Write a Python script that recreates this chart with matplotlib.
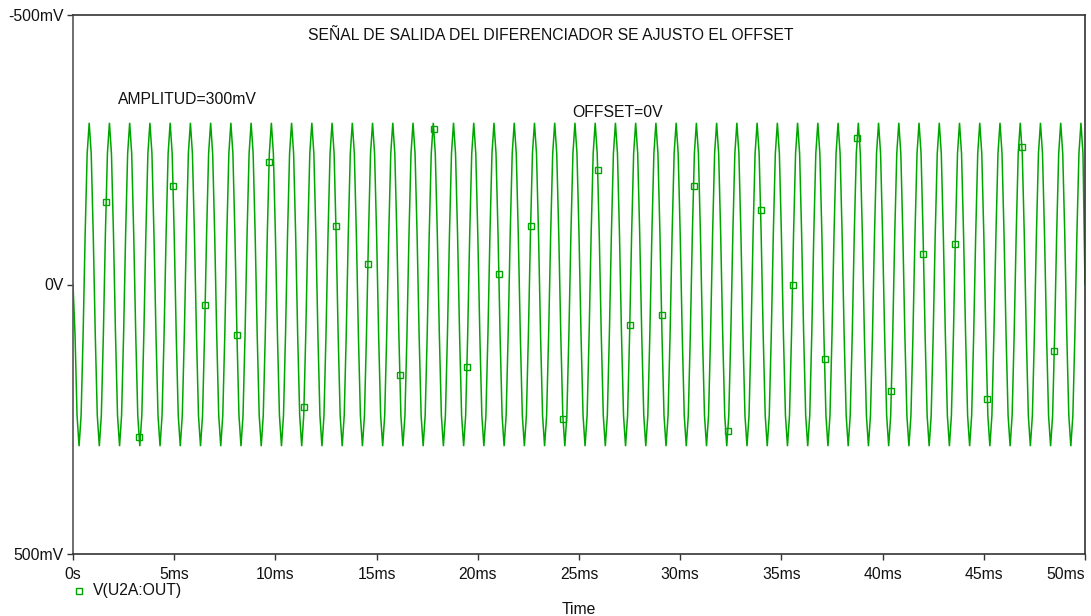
import numpy as np
import matplotlib
matplotlib.use("Agg")
import matplotlib.pyplot as plt

plt.rcParams['font.family'] = ['Liberation Sans', 'DejaVu Sans']

# One period of the sampled output (mV), 0.1 ms per sample, 1 kHz
period_mv = [93, 243, 300, 243, 93, -93, -243, -300, -243, -93]
n_periods = 50
step_ms = 0.1
start_mv = 0
end_mv = 0

# Times (ms) where the trace markers sit
marker_ms = [1.64, 3.27, 4.94, 6.53, 8.10, 9.69, 11.41, 12.99, 14.57, 16.15,
             17.82, 19.46, 21.04, 22.61, 24.21, 25.92, 27.51, 29.08, 30.66, 32.35,
             33.97, 35.55, 37.13, 38.75, 40.43, 42.02, 43.59, 45.18, 46.88, 48.48]

x_ticks_ms = [0, 5, 10, 15, 20, 25, 30, 35, 40, 45, 50]
x_tick_labels = ['0s', '5ms', '10ms', '15ms', '20ms', '25ms', '30ms', '35ms',
                 '40ms', '45ms', '50ms']
y_ticks_v = [-0.5, 0.0, 0.5]
y_tick_labels = ['-500mV', '0V', '500mV']

trace_name = 'V(U2A:OUT)'
title = 'SEÑAL DE SALIDA DEL DIFERENCIADOR SE AJUSTO EL OFFSET'
note_amp = 'AMPLITUD=300mV'
note_off = 'OFFSET=0V'

# Build the sampled trace
samples = np.tile(np.array(period_mv, dtype=float), n_periods)
v_mv = np.concatenate([[start_mv], samples[:-1], [end_mv]])
t_ms = np.arange(len(v_mv)) * step_ms
t_s = t_ms / 1000.0
v_v = v_mv / 1000.0

mk_t = np.array(marker_ms) / 1000.0
mk_v = np.interp(mk_t, t_s, v_v)

W, H = 1091, 616
FS = 11.3
fig = plt.figure(figsize=(W / 100, H / 100), dpi=100)
L, R, T, B = 73, 1085, 15, 554
ax = fig.add_axes([L / W, 1 - B / H, (R - L) / W, (B - T) / H])

green = '#00A600'
ax.plot(t_s, v_v, color=green, lw=1.1, solid_joinstyle='miter')
ax.plot(mk_t, mk_v, ls='none', marker='s', ms=4.6, mfc='none',
        mec=green, mew=1.0)

ax.set_xlim(0, 0.05)
ax.set_ylim(0.5, -0.5)

ax.set_xticks(np.array(x_ticks_ms) / 1000.0)
ax.set_xticklabels(x_tick_labels)
ax.set_yticks(y_ticks_v)
ax.set_yticklabels(y_tick_labels)

ax.tick_params(axis='both', direction='out', length=4.5, width=1,
               colors='#333333', labelsize=FS, labelcolor='#111111', pad=2)
ax.tick_params(axis='x', pad=5)
for sp in ax.spines.values():
    sp.set_color('#333333')
    sp.set_linewidth(1.2)
ax.spines['left'].set_color('#555555')

# keep the last time label inside the figure
last = ax.get_xticklabels()[-1]
last.set_horizontalalignment('right')

ax.set_xlabel('Time', fontsize=FS, color='#111111', labelpad=14)

fig.text(308 / W, 1 - 35 / H, title, fontsize=FS, color='#111111',
         ha='left', va='center')
fig.text(118 / W, 1 - 100 / H, note_amp, fontsize=FS, color='#111111',
         ha='left', va='center')
fig.text(572 / W, 1 - 112 / H, note_off, fontsize=FS, color='#111111',
         ha='left', va='center')

# trace legend below the axis
fig.lines.append(matplotlib.lines.Line2D([79 / W], [1 - 591 / H],
                                         transform=fig.transFigure,
                                         ls='none', marker='s', ms=4,
                                         mfc='none', mec=green, mew=1.0))
fig.text(93 / W, 1 - 591 / H, trace_name, fontsize=FS, color='#111111',
         ha='left', va='center')

fig.savefig('out.png', dpi=100)
